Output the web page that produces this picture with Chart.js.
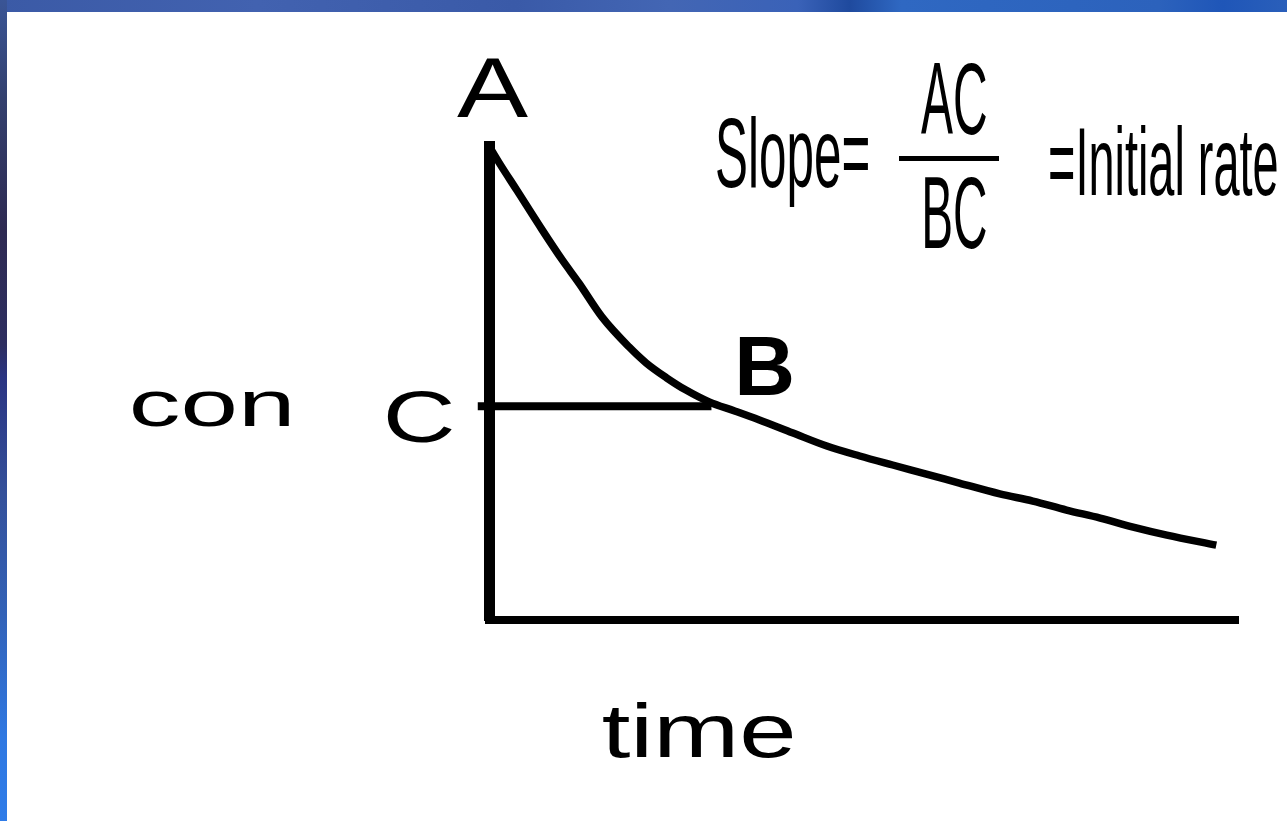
<!DOCTYPE html>
<html>
<head>
<meta charset="utf-8">
<title>Initial rate</title>
<script src="https://cdn.jsdelivr.net/npm/chart.js@4.4.1/dist/chart.umd.min.js"></script>
<style>
  html, body { margin: 0; padding: 0; overflow: hidden; }
  body { width: 1287px; height: 821px; position: relative; background: #fff; }
  .edge-top { position: absolute; left: 0; top: 0; width: 1287px; height: 12px;
    background: linear-gradient(90deg, #3b5aa6 0%, #4262b0 20%, #3a5aa8 40%, #4366b4 52%, #3a62b8 62%, #1f4a9e 66%, #2f68c2 70%, #2c62bc 90%, #1f56b8 95%, #2a5fba 100%); }
  .edge-left { position: absolute; left: 0; top: 0; width: 7px; height: 821px;
    background: linear-gradient(180deg, #3a5596 0%, #33406e 12%, #2e2a52 28%, #2d2e60 42%, #2a3482 46%, #34509a 60%, #3262b8 75%, #2f78e2 90%, #2f7ce8 100%); }
  #wrap { position: absolute; left: 0; top: 0; width: 1287px; height: 821px; }
</style>
</head>
<body>
<div class="edge-top"></div>
<div class="edge-left"></div>
<div id="wrap"><canvas id="rateChart"></canvas></div>
<script>
// concentration vs time curve
const timeValues = [0, 0.13, 0.37, 0.71, 0.98, 1.2, 1.51, 1.87, 2.1, 2.37, 2.63, 2.94, 3.28, 3.61,
                    4.05, 4.51, 4.95, 5.39, 5.84, 6.28, 6.82, 7.26, 7.71, 8.16, 8.6, 9.05, 9.71];
const concValues = [10, 9.66, 9.07, 8.23, 7.59, 7.11, 6.39, 5.76, 5.42, 5.11, 4.85, 4.6, 4.41, 4.22,
                    3.95, 3.67, 3.46, 3.27, 3.08, 2.89, 2.66, 2.51, 2.32, 2.15, 1.96, 1.79, 1.58];
// horizontal line from C to B
const chordTime = [-0.15, 2.97];
const chordConc = [4.51, 4.51];

const pointNames = ['A', 'B', 'C'];
const xTitle = 'time';
const yTitle = 'con';
const formulaParts = ['Slope=', 'AC', 'BC', '=Initial rate'];

const FONT = '"Liberation Sans", Arial, sans-serif';

// draw text so its ink spans left..right with the given height above baseline
function fitText(ctx, text, left, right, baseline, ascent, weight) {
    weight = weight || 'normal';
    ctx.save();
    ctx.font = weight + ' 100px ' + FONT;
    const m = ctx.measureText(text);
    const size = 100 * ascent / m.actualBoundingBoxAscent;
    ctx.font = weight + ' ' + size + 'px ' + FONT;
    const m2 = ctx.measureText(text);
    const ink = m2.actualBoundingBoxLeft + m2.actualBoundingBoxRight;
    const sx = (right - left) / ink;
    ctx.translate(left + m2.actualBoundingBoxLeft * sx, baseline);
    ctx.scale(sx, 1);
    ctx.textAlign = 'left';
    ctx.textBaseline = 'alphabetic';
    ctx.fillStyle = '#000';
    ctx.fillText(text, 0, 0);
    ctx.restore();
}

const labelsPlugin = {
    id: 'labels',
    afterDraw(chart) {
        const ctx = chart.ctx;
        const xs = chart.scales.x, ys = chart.scales.y;
        const x0 = xs.getPixelForValue(0);
        const yTop = ys.getPixelForValue(10);
        const y0 = ys.getPixelForValue(0);
        const yC = ys.getPixelForValue(chordConc[0]);
        const xB = xs.getPixelForValue(chordTime[1]);

        fitText(ctx, pointNames[0], x0 - 32, x0 + 39, yTop - 29, 59);
        fitText(ctx, pointNames[1], xB + 28, xB + 80, yC - 11, 57, 'bold');
        fitText(ctx, pointNames[2], x0 - 102, x0 - 37, yC + 36, 51);

        fitText(ctx, yTitle, 132, 289, yC + 20, 35);
        fitText(ctx, xTitle, 603, 793, y0 + 137, 56);

        // slope formula
        fitText(ctx, formulaParts[0], 717, 868, 187, 72);
        fitText(ctx, formulaParts[1], 921, 986, 134, 71);
        fitText(ctx, formulaParts[2], 925, 986, 248, 71);
        fitText(ctx, formulaParts[3], 1050, 1277, 195, 70);
        ctx.save();
        ctx.fillStyle = '#000';
        ctx.fillRect(899, 156, 100, 5);
        ctx.restore();
    }
};

const ctx = document.getElementById('rateChart').getContext('2d');
new Chart(ctx, {
    type: 'scatter',
    data: {
        datasets: [{
            data: timeValues.map((t, i) => ({x: t, y: concValues[i]})),
            showLine: true,
            borderColor: '#000',
            borderWidth: 7.5,
            pointRadius: 0,
            cubicInterpolationMode: 'monotone',
            clip: false
        }, {
            data: chordTime.map((t, i) => ({x: t, y: chordConc[i]})),
            showLine: true,
            borderColor: '#000',
            borderWidth: 8,
            pointRadius: 0,
            clip: false
        }]
    },
    options: {
        responsive: true,
        maintainAspectRatio: false,
        animation: false,
        events: [],
        layout: { padding: { left: 489, right: 49, top: 146, bottom: 201 } },
        plugins: {
            legend: { display: false },
            tooltip: { enabled: false }
        },
        scales: {
            x: {
                type: 'linear', min: 0, max: 10,
                grid: { display: false, drawTicks: false },
                ticks: { display: false },
                border: { display: true, color: '#000', width: 8 }
            },
            y: {
                min: 0, max: 10,
                grid: { display: false, drawTicks: false },
                ticks: { display: false },
                border: { display: true, color: '#000', width: 11 }
            }
        }
    },
    plugins: [labelsPlugin]
});
</script>
</body>
</html>
